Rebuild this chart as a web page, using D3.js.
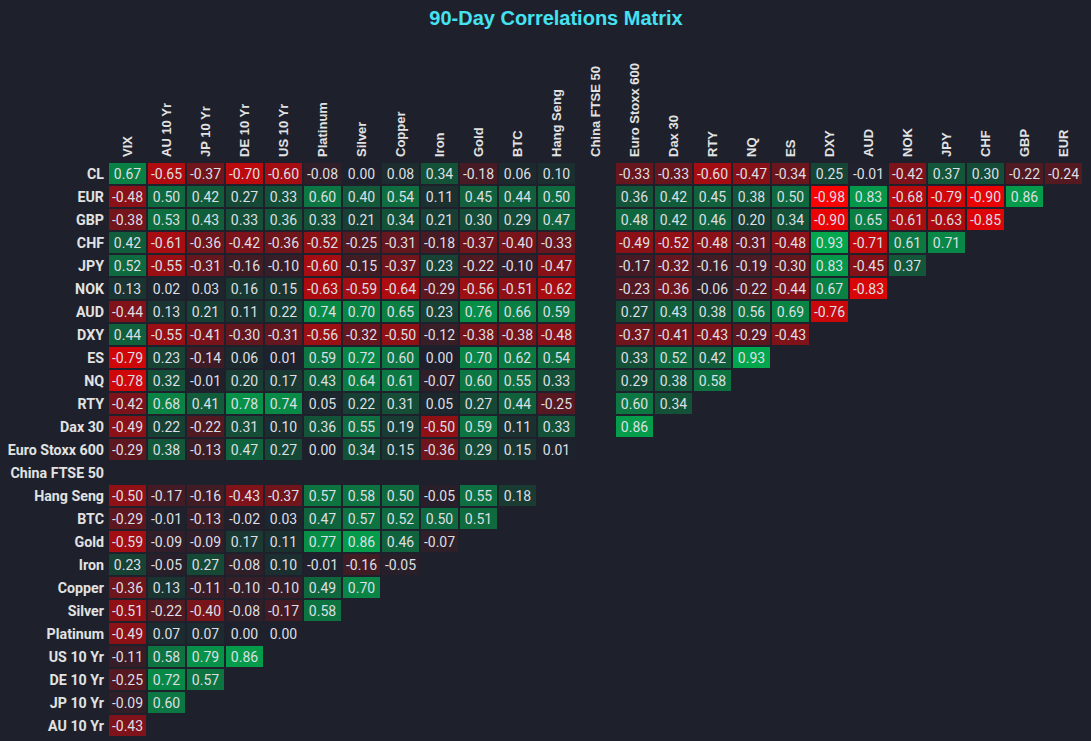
<!DOCTYPE html>
<html lang="en">
<head>
    <meta charset="UTF-8">
    <title>90-Day Correlations Matrix</title>
    <script src="https://d3js.org/d3.v7.min.js"></script>
    <style>
        body { margin: 0; background: #1e212c; }
        .title { font-family: "Liberation Sans", Arial, sans-serif; font-size: 20px; font-weight: bold; fill: #45e2f2; }
        .col-label { font-family: "Liberation Sans", Arial, sans-serif; font-size: 13px; font-weight: bold; fill: #e2e2e2; }
        .row-label { font-family: Roboto, "Liberation Sans", sans-serif; font-size: 15px; font-weight: bold; fill: #e2e2e2; }
        .cell-text { font-family: Roboto, "Liberation Sans", sans-serif; font-size: 14px; fill: #dcdfe3; }
    </style>
</head>
<body>
    <svg width="1091" height="741"></svg>

    <script>
        // columns (left to right) and rows (top to bottom)
        const columns = ["VIX", "AU 10 Yr", "JP 10 Yr", "DE 10 Yr", "US 10 Yr", "Platinum", "Silver", "Copper",
            "Iron", "Gold", "BTC", "Hang Seng", "China FTSE 50", "Euro Stoxx 600", "Dax 30", "RTY", "NQ", "ES",
            "DXY", "AUD", "NOK", "JPY", "CHF", "GBP", "EUR"];
        const rows = ["CL", "EUR", "GBP", "CHF", "JPY", "NOK", "AUD", "DXY", "ES", "NQ", "RTY", "Dax 30",
            "Euro Stoxx 600", "China FTSE 50", "Hang Seng", "BTC", "Gold", "Iron", "Copper", "Silver", "Platinum",
            "US 10 Yr", "DE 10 Yr", "JP 10 Yr", "AU 10 Yr"];

        // correlation values per row, in column order (null = empty cell)
        const rowCL = [0.67, -0.65, -0.37, -0.70, -0.60, -0.08, 0.00, 0.08, 0.34, -0.18, 0.06, 0.10, null, -0.33, -0.33, -0.60, -0.47, -0.34, 0.25, -0.01, -0.42, 0.37, 0.30, -0.22, -0.24];
        const rowEUR = [-0.48, 0.50, 0.42, 0.27, 0.33, 0.60, 0.40, 0.54, 0.11, 0.45, 0.44, 0.50, null, 0.36, 0.42, 0.45, 0.38, 0.50, -0.98, 0.83, -0.68, -0.79, -0.90, 0.86];
        const rowGBP = [-0.38, 0.53, 0.43, 0.33, 0.36, 0.33, 0.21, 0.34, 0.21, 0.30, 0.29, 0.47, null, 0.48, 0.42, 0.46, 0.20, 0.34, -0.90, 0.65, -0.61, -0.63, -0.85];
        const rowCHF = [0.42, -0.61, -0.36, -0.42, -0.36, -0.52, -0.25, -0.31, -0.18, -0.37, -0.40, -0.33, null, -0.49, -0.52, -0.48, -0.31, -0.48, 0.93, -0.71, 0.61, 0.71];
        const rowJPY = [0.52, -0.55, -0.31, -0.16, -0.10, -0.60, -0.15, -0.37, 0.23, -0.22, -0.10, -0.47, null, -0.17, -0.32, -0.16, -0.19, -0.30, 0.83, -0.45, 0.37];
        const rowNOK = [0.13, 0.02, 0.03, 0.16, 0.15, -0.63, -0.59, -0.64, -0.29, -0.56, -0.51, -0.62, null, -0.23, -0.36, -0.06, -0.22, -0.44, 0.67, -0.83];
        const rowAUD = [-0.44, 0.13, 0.21, 0.11, 0.22, 0.74, 0.70, 0.65, 0.23, 0.76, 0.66, 0.59, null, 0.27, 0.43, 0.38, 0.56, 0.69, -0.76];
        const rowDXY = [0.44, -0.55, -0.41, -0.30, -0.31, -0.56, -0.32, -0.50, -0.12, -0.38, -0.38, -0.48, null, -0.37, -0.41, -0.43, -0.29, -0.43];
        const rowES = [-0.79, 0.23, -0.14, 0.06, 0.01, 0.59, 0.72, 0.60, 0.00, 0.70, 0.62, 0.54, null, 0.33, 0.52, 0.42, 0.93];
        const rowNQ = [-0.78, 0.32, -0.01, 0.20, 0.17, 0.43, 0.64, 0.61, -0.07, 0.60, 0.55, 0.33, null, 0.29, 0.38, 0.58];
        const rowRTY = [-0.42, 0.68, 0.41, 0.78, 0.74, 0.05, 0.22, 0.31, 0.05, 0.27, 0.44, -0.25, null, 0.60, 0.34];
        const rowDax = [-0.49, 0.22, -0.22, 0.31, 0.10, 0.36, 0.55, 0.19, -0.50, 0.59, 0.11, 0.33, null, 0.86];
        const rowStoxx = [-0.29, 0.38, -0.13, 0.47, 0.27, 0.00, 0.34, 0.15, -0.36, 0.29, 0.15, 0.01, null];
        const rowChina = [];
        const rowHangSeng = [-0.50, -0.17, -0.16, -0.43, -0.37, 0.57, 0.58, 0.50, -0.05, 0.55, 0.18];
        const rowBTC = [-0.29, -0.01, -0.13, -0.02, 0.03, 0.47, 0.57, 0.52, 0.50, 0.51];
        const rowGold = [-0.59, -0.09, -0.09, 0.17, 0.11, 0.77, 0.86, 0.46, -0.07];
        const rowIron = [0.23, -0.05, 0.27, -0.08, 0.10, -0.01, -0.16, -0.05];
        const rowCopper = [-0.36, 0.13, -0.11, -0.10, -0.10, 0.49, 0.70];
        const rowSilver = [-0.51, -0.22, -0.40, -0.08, -0.17, 0.58];
        const rowPlatinum = [-0.49, 0.07, 0.07, 0.00, 0.00];
        const rowUS10 = [-0.11, 0.58, 0.79, 0.86];
        const rowDE10 = [-0.25, 0.72, 0.57];
        const rowJP10 = [-0.09, 0.60];
        const rowAU10 = [-0.43];

        const matrix = [rowCL, rowEUR, rowGBP, rowCHF, rowJPY, rowNOK, rowAUD, rowDXY, rowES, rowNQ, rowRTY,
            rowDax, rowStoxx, rowChina, rowHangSeng, rowBTC, rowGold, rowIron, rowCopper, rowSilver, rowPlatinum,
            rowUS10, rowDE10, rowJP10, rowAU10];

        // flatten into cells
        const cells = [];
        matrix.forEach((vals, i) => {
            vals.forEach((v, j) => {
                if (v !== null) cells.push({ row: rows[i], col: columns[j], value: v });
            });
        });

        const svg = d3.select("svg");

        const x = d3.scaleBand()
            .domain(columns)
            .range([109, 109 + 25 * 39 - 2])
            .paddingInner(2 / 39);

        const y = d3.scaleBand()
            .domain(rows)
            .range([163, 163 + 25 * 23 - 2])
            .paddingInner(2 / 23);

        // diverging colour: red (-1) -> background (0) -> green (+1)
        const color = d3.scaleLinear()
            .domain([-1, 0, 1])
            .range(["#ff0000", "#1e212c", "#00b050"]);

        // title
        svg.append("text")
            .attr("class", "title")
            .attr("x", 556)
            .attr("y", 25)
            .attr("text-anchor", "middle")
            .text("90-Day Correlations Matrix");

        // cells
        const g = svg.append("g");
        g.selectAll("rect")
            .data(cells)
            .enter()
            .append("rect")
            .attr("x", d => x(d.col))
            .attr("y", d => y(d.row))
            .attr("width", x.bandwidth())
            .attr("height", y.bandwidth())
            .attr("fill", d => color(d.value));

        g.selectAll("text")
            .data(cells)
            .enter()
            .append("text")
            .attr("class", "cell-text")
            .attr("x", d => x(d.col) + x.bandwidth() / 2)
            .attr("y", d => y(d.row) + y.bandwidth() / 2)
            .attr("dy", "0.36em")
            .attr("text-anchor", "middle")
            .text(d => d.value.toFixed(2));

        // column labels (rotated)
        svg.append("g")
            .selectAll("text")
            .data(columns)
            .enter()
            .append("text")
            .attr("class", "col-label")
            .attr("transform", d => `translate(${x(d) + x.bandwidth() / 2 + 4.5},157) rotate(-90)`)
            .attr("text-anchor", "start")
            .text(d => d);

        // row labels (squeezed a little to look like a condensed face)
        svg.append("g")
            .selectAll("text")
            .data(rows)
            .enter()
            .append("text")
            .attr("class", "row-label")
            .attr("transform", d => `translate(104,${y(d) + y.bandwidth() / 2}) scale(0.95,1)`)
            .attr("dy", "0.36em")
            .attr("text-anchor", "end")
            .text(d => d);
    </script>
</body>
</html>
